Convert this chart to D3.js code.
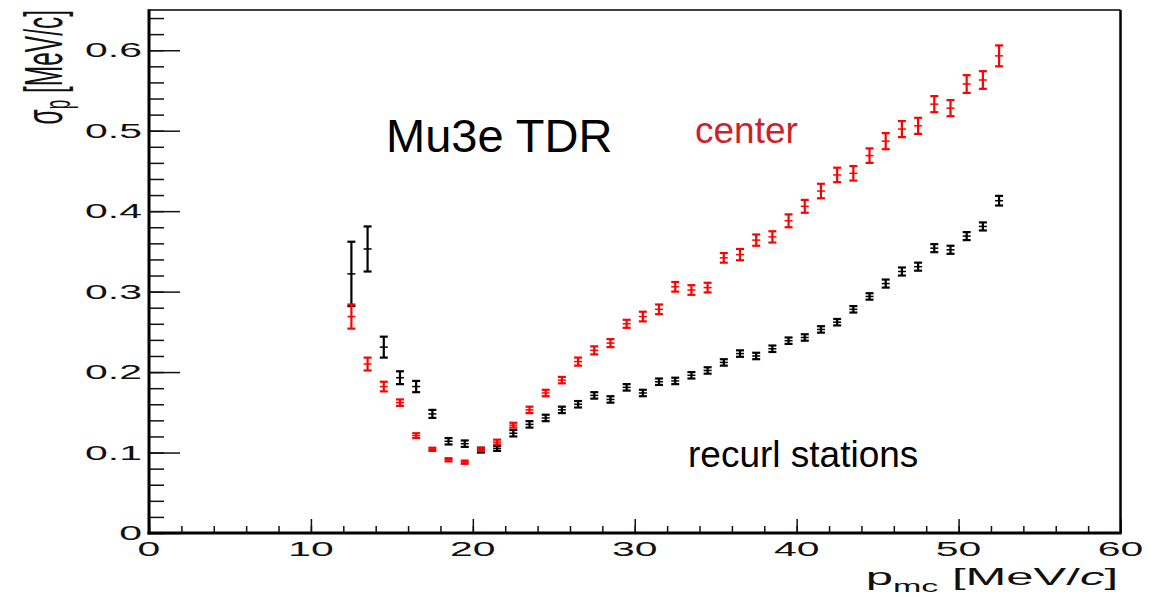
<!DOCTYPE html>
<html>
<head>
<meta charset="utf-8">
<script src="https://cdn.jsdelivr.net/npm/d3@7"></script>
<style>
  html, body { margin: 0; padding: 0; background: #fff; }
  svg { display: block; }
  text { font-family: "Liberation Sans", Arial, sans-serif; }
</style>
</head>
<body>
<div id="chart"></div>
<script>
// momentum bins (MeV/c)
const pMc = [12.5, 13.5, 14.5, 15.5, 16.5, 17.5, 18.5, 19.5, 20.5, 21.5,
             22.5, 23.5, 24.5, 25.5, 26.5, 27.5, 28.5, 29.5, 30.5, 31.5,
             32.5, 33.5, 34.5, 35.5, 36.5, 37.5, 38.5, 39.5, 40.5, 41.5,
             42.5, 43.5, 44.5, 45.5, 46.5, 47.5, 48.5, 49.5, 50.5, 51.5, 52.5];

// "center" series
const centerSigma = [0.269, 0.210, 0.182, 0.162, 0.121, 0.104, 0.091, 0.088, 0.104, 0.113,
                     0.134, 0.153, 0.174, 0.190, 0.213, 0.227, 0.236, 0.260, 0.269, 0.278,
                     0.306, 0.302, 0.305, 0.342, 0.346, 0.364, 0.368, 0.388, 0.406, 0.425,
                     0.445, 0.447, 0.469, 0.487, 0.502, 0.506, 0.533, 0.528, 0.558, 0.563, 0.593];
const centerErr = [0.015, 0.008, 0.006, 0.004, 0.003, 0.002, 0.002, 0.002, 0.002, 0.003,
                   0.003, 0.004, 0.004, 0.004, 0.005, 0.005, 0.005, 0.005, 0.006, 0.006,
                   0.006, 0.006, 0.006, 0.006, 0.007, 0.007, 0.007, 0.008, 0.008, 0.009,
                   0.009, 0.009, 0.009, 0.010, 0.010, 0.010, 0.010, 0.010, 0.011, 0.011, 0.013];

// "recurl stations" series
const recurlSigma = [0.322, 0.353, 0.231, 0.193, 0.182, 0.148, 0.114, 0.111, 0.103, 0.105,
                     0.124, 0.135, 0.143, 0.153, 0.160, 0.171, 0.166, 0.181, 0.174, 0.188,
                     0.189, 0.196, 0.202, 0.212, 0.223, 0.220, 0.229, 0.239, 0.243, 0.253,
                     0.262, 0.278, 0.294, 0.310, 0.325, 0.331, 0.354, 0.352, 0.369, 0.381, 0.413];
const recurlErr = [0.040, 0.028, 0.013, 0.008, 0.007, 0.005, 0.004, 0.004, 0.003, 0.003,
                   0.004, 0.004, 0.004, 0.004, 0.004, 0.004, 0.004, 0.004, 0.004, 0.004,
                   0.004, 0.004, 0.004, 0.004, 0.004, 0.004, 0.004, 0.004, 0.004, 0.004,
                   0.004, 0.004, 0.004, 0.005, 0.005, 0.005, 0.005, 0.005, 0.005, 0.005, 0.006];

const xMajor = [0, 10, 20, 30, 40, 50, 60];
const xMinor = d3.range(0, 61, 2);
const yMajor = [0, 0.1, 0.2, 0.3, 0.4, 0.5, 0.6];
const yMinor = d3.range(0, 0.641, 0.02);
const yLabels = ["0", "0.1", "0.2", "0.3", "0.4", "0.5", "0.6"];

const width = 1155, height = 597;
const plotL = 149, plotR = 1120.5, plotT = 10, plotB = 533;
const stretch = 2.1; // the old canvas is stretched horizontally

const svg = d3.select("#chart").append("svg")
  .attr("width", width)
  .attr("height", height);

const x = d3.scaleLinear().domain([0, 60]).range([plotL, plotR]);
const y = d3.scaleLinear().domain([0, 0.65]).range([plotB, plotT]);

// ticks, pointing inward like ROOT
const tickStyle = g => {
  g.select(".domain").remove();
  g.selectAll(".tick line").attr("stroke", "#111").attr("stroke-width", 1.5);
};

svg.append("g")
  .attr("transform", `translate(${plotL},0)`)
  .call(d3.axisLeft(y).tickValues(yMinor).tickSizeInner(-15).tickSizeOuter(0).tickFormat(""))
  .call(tickStyle);
svg.append("g")
  .attr("transform", `translate(${plotL},0)`)
  .call(d3.axisLeft(y).tickValues(yMajor).tickSizeInner(-31).tickSizeOuter(0).tickFormat(""))
  .call(tickStyle);
svg.append("g")
  .attr("transform", `translate(0,${plotB})`)
  .call(d3.axisBottom(x).tickValues(xMinor).tickSizeInner(-7).tickSizeOuter(0).tickFormat(""))
  .call(tickStyle);
svg.append("g")
  .attr("transform", `translate(0,${plotB})`)
  .call(d3.axisBottom(x).tickValues(xMajor).tickSizeInner(-14).tickSizeOuter(0).tickFormat(""))
  .call(tickStyle);

// frame
svg.append("line").attr("x1", plotL).attr("x2", plotR).attr("y1", plotT).attr("y2", plotT)
  .attr("stroke", "#000").attr("stroke-width", 1.5);
svg.append("line").attr("x1", plotR).attr("x2", plotR).attr("y1", plotT).attr("y2", plotB)
  .attr("stroke", "#000").attr("stroke-width", 2.5);
svg.append("line").attr("x1", plotL).attr("x2", plotL).attr("y1", plotT - 0.75).attr("y2", plotB + 1.5)
  .attr("stroke", "#000").attr("stroke-width", 3);
svg.append("line").attr("x1", plotL - 1.5).attr("x2", plotR + 1.2).attr("y1", plotB).attr("y2", plotB)
  .attr("stroke", "#000").attr("stroke-width", 3);

// tick labels (stretched like the original bitmap)
yMajor.forEach((v, i) => {
  svg.append("text")
    .attr("transform", `translate(142,${y(v) + 7}) scale(${stretch},1)`)
    .attr("text-anchor", "end")
    .style("font-size", "19.5px")
    .attr("fill", "#111")
    .text(yLabels[i]);
});
xMajor.forEach(v => {
  svg.append("text")
    .attr("transform", `translate(${x(v)},556) scale(${stretch},1)`)
    .attr("text-anchor", "middle")
    .style("font-size", "19.5px")
    .attr("fill", "#111")
    .text(v);
});

// axis titles
const xt = svg.append("text")
  .attr("transform", `translate(1118,585) scale(2,1)`)
  .attr("text-anchor", "end")
  .style("font-size", "24.5px")
  .attr("fill", "#111");
xt.append("tspan").text("p");
xt.append("tspan").attr("dy", 7).style("font-size", "17px").text("mc");
xt.append("tspan").attr("dy", -7).text(" [MeV/");
xt.append("tspan").style("font-style", "italic").text("c");
xt.append("tspan").text("]");

const yt = svg.append("text")
  .attr("transform", `translate(62,10) rotate(-90) scale(1,2.2)`)
  .attr("text-anchor", "end")
  .style("font-size", "24.5px")
  .attr("fill", "#111");
yt.append("tspan").text("σ");
yt.append("tspan").attr("dy", 3.6).style("font-size", "17px").text("p");
yt.append("tspan").attr("dy", -3.6).text(" [MeV/c]");

// error bar series
function drawSeries(vals, errs, color) {
  const data = pMc.map((p, i) => ({ p, v: vals[i], e: errs[i] }));
  const g = svg.append("g").attr("stroke", color).attr("stroke-width", 2.2);
  const cap = 4;

  g.selectAll(".bar").data(data).join("line")
    .attr("x1", d => x(d.p)).attr("x2", d => x(d.p))
    .attr("y1", d => y(d.v - d.e)).attr("y2", d => y(d.v + d.e));
  g.selectAll(".capHi").data(data).join("line")
    .attr("x1", d => x(d.p) - cap).attr("x2", d => x(d.p) + cap)
    .attr("y1", d => y(d.v + d.e)).attr("y2", d => y(d.v + d.e));
  g.selectAll(".capLo").data(data).join("line")
    .attr("x1", d => x(d.p) - cap).attr("x2", d => x(d.p) + cap)
    .attr("y1", d => y(d.v - d.e)).attr("y2", d => y(d.v - d.e));
  g.selectAll(".mid").data(data).join("line")
    .attr("stroke-width", 1.5)
    .attr("x1", d => x(d.p) - 4).attr("x2", d => x(d.p) + 4)
    .attr("y1", d => y(d.v)).attr("y2", d => y(d.v));
}

drawSeries(recurlSigma, recurlErr, "#000");
drawSeries(centerSigma, centerErr, "#ff0000");

// annotations
svg.append("text").attr("x", 386).attr("y", 152)
  .style("font-size", "47px").attr("fill", "#000").text("Mu3e TDR");
svg.append("text").attr("x", 695).attr("y", 143)
  .style("font-size", "37px").attr("fill", "#cc2229").text("center");
svg.append("text").attr("x", 688).attr("y", 467)
  .style("font-size", "37px").attr("fill", "#000").text("recurl stations");
</script>
</body>
</html>
